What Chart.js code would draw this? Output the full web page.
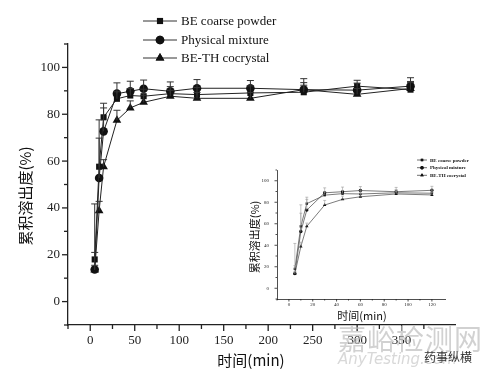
<!DOCTYPE html>
<html>
<head>
<meta charset="utf-8">
<script src="https://cdn.jsdelivr.net/npm/chart.js@4/dist/chart.umd.min.js"></script>
<style>
  html, body { margin: 0; padding: 0; background: #fff; }
  #wrap { position: relative; width: 489px; height: 378px; overflow: hidden; }
  #main { position: absolute; left: 0; top: 0; }
  #inset { position: absolute; left: 240px; top: 155px; }
  .wm { position: absolute; white-space: nowrap; }
</style>
</head>
<body>
<div id="wrap">
  <canvas id="main" width="489" height="378"></canvas>
  <canvas id="inset" width="230" height="170"></canvas>
  <div class="wm" style="left:338px;top:318px;font:28px 'Noto Sans CJK SC';color:rgba(190,190,190,0.7);letter-spacing:1px;">嘉峪检测网</div>
  <div class="wm" style="left:338px;top:350px;font:italic 15px 'DejaVu Sans';color:rgba(200,200,200,0.7);">AnyTesting.com</div>
  <div class="wm" style="left:424px;top:348px;font:12px 'Noto Sans CJK SC';color:#333;">药事纵横</div>
</div>
<script>
// release times (min)
const times = [5, 10, 15, 30, 45, 60, 90, 120, 180, 240, 300, 360];
const insetTimes = [5, 10, 15, 30, 45, 60, 90, 120];

// cumulative dissolution (%)
const coarse = [18, 57.6, 78.7, 86.6, 88, 87.7, 88.8, 88.4, 89.1, 89.4, 92, 90.5];
const mixture = [13.7, 52.8, 72.7, 88.8, 89.8, 90.9, 89.8, 91.1, 91.1, 90.5, 90.3, 92];
const cocrystal = [13.5, 38.8, 57.6, 77.4, 82.7, 85.1, 87.7, 86.8, 86.8, 90.5, 88.5, 91];

// standard deviations (upper bars)
const coarseErr = [3, 20, 6, 3, 3, 3, 3, 3, 3, 3, 2.5, 3];
const mixtureErr = [28, 17, 10, 4.6, 4.3, 3.7, 4, 3.7, 3.3, 4.7, 3, 3.6];
const cocrystalErr = [2, 4, 3, 4.3, 3, 3, 2.5, 2.5, 2.5, 3, 2.5, 3];

const seriesNames = ["BE coarse powder", "Physical mixture", "BE-TH cocrystal"];
const markers = ["rect", "circle", "triangle"];

const yTitle = "累积溶出度(%)";
const xTitle = "时间(min)";

function makeSets(xs, big) {
  const vals = [coarse, mixture, cocrystal];
  const errs = [coarseErr, mixtureErr, cocrystalErr];
  return vals.map((v, k) => ({
    label: seriesNames[k],
    data: xs.map((t, i) => ({ x: t, y: v[i] })),
    err: errs[k].slice(0, xs.length),
    borderColor: big ? "#222" : "#444",
    backgroundColor: "#111",
    borderWidth: big ? 1 : 0.7,
    pointStyle: markers[k],
    pointRadius: big ? (k === 2 ? 5 : 4.3) : (k === 2 ? 2 : 1.7),
    pointBorderWidth: 0,
    tension: 0,
  }));
}

// error bars, minor/major ticks, legend and titles
function decor(o) {
  return {
    id: "decor",
    afterDatasetsDraw(chart) {
      const ctx = chart.ctx, ys = chart.scales.y;
      ctx.save();
      ctx.strokeStyle = o.errColor;
      ctx.lineWidth = o.errWidth;
      chart.data.datasets.forEach((ds, d) => {
        const meta = chart.getDatasetMeta(d);
        meta.data.forEach((pt, i) => {
          const top = ys.getPixelForValue(ds.data[i].y + ds.err[i]);
          ctx.beginPath();
          ctx.moveTo(pt.x, pt.y);
          ctx.lineTo(pt.x, top);
          ctx.moveTo(pt.x - o.cap, top);
          ctx.lineTo(pt.x + o.cap, top);
          ctx.stroke();
        });
      });
      ctx.restore();
    },
    afterDraw(chart) {
      const ctx = chart.ctx, xs = chart.scales.x, ys = chart.scales.y;
      const a = chart.chartArea;
      ctx.save();
      ctx.strokeStyle = "#222";
      ctx.lineWidth = o.axisWidth;
      xs.ticks.forEach(t => {
        if (t.value > xs.max || t.value < xs.min) return;
        const p = xs.getPixelForValue(t.value);
        const L = t.value % o.xMajor === 0 ? o.major : o.minor;
        ctx.beginPath(); ctx.moveTo(p, a.bottom); ctx.lineTo(p, a.bottom + L); ctx.stroke();
      });
      ys.ticks.forEach(t => {
        const p = ys.getPixelForValue(t.value);
        const L = t.value % o.yMajor === 0 ? o.major : o.minor;
        ctx.beginPath(); ctx.moveTo(a.left, p); ctx.lineTo(a.left - L, p); ctx.stroke();
      });
      // legend
      chart.data.datasets.forEach((ds, k) => {
        const y = o.leg.y[k];
        ctx.strokeStyle = "#333";
        ctx.lineWidth = o.leg.lw;
        ctx.beginPath(); ctx.moveTo(o.leg.x0, y); ctx.lineTo(o.leg.x1, y); ctx.stroke();
        const mx = (o.leg.x0 + o.leg.x1) / 2;
        Chart.helpers.drawPoint(ctx, { pointStyle: ds.pointStyle, radius: ds.pointRadius, borderWidth: 0 }, mx, y);
        ctx.fillStyle = "#111";
        ctx.fill();
        ctx.font = o.leg.font;
        ctx.textBaseline = "middle";
        ctx.textAlign = "left";
        ctx.fillText(ds.label, o.leg.tx, y + 0.5);
      });
      // axis titles
      ctx.fillStyle = "#111";
      ctx.font = o.titleFont;
      ctx.textAlign = "center";
      ctx.textBaseline = "middle";
      ctx.fillText(xTitle, o.xt[0], o.xt[1]);
      ctx.translate(o.yt[0], o.yt[1]);
      ctx.rotate(-Math.PI / 2);
      ctx.fillText(yTitle, 0, 0);
      ctx.restore();
    }
  };
}

function axes(o) {
  return {
    x: {
      type: "linear", min: o.xmin, max: o.xmax,
      grid: { display: false },
      border: { display: true, color: "#222", width: o.axisWidth },
      afterFit: s => { s.height = o.xh; },
      afterBuildTicks: s => { s.ticks = s.ticks.filter(t => t.value % o.xStep === 0); },
      ticks: {
        stepSize: o.xStep, autoSkip: false, maxRotation: 0, padding: o.xpad,
        color: "#222", font: { family: "Liberation Serif", size: o.tickSize },
        callback: v => (v % o.xMajor === 0 && v >= 0 && v <= o.xLast) ? v : ""
      }
    },
    y: {
      type: "linear", min: -10, max: 110,
      grid: { display: false },
      border: { display: true, color: "#222", width: o.axisWidth },
      afterFit: s => { s.width = o.yw; },
      ticks: {
        stepSize: 10, autoSkip: false, padding: o.ypad,
        color: "#222", font: { family: "Liberation Serif", size: o.tickSize },
        callback: v => (v % 20 === 0 && v >= 0 && v <= 100) ? v : ""
      }
    }
  };
}

const mainOpt = {
  xmin: -25, xmax: 410, xStep: 25, xMajor: 50, xLast: 400, xh: 53, yw: 68,
  xpad: 0, ypad: 0, tickSize: 13, axisWidth: 1.3, major: 6, minor: 4, yMajor: 20,
  errColor: "#333", errWidth: 1, cap: 3.5,
  leg: { x0: 143, x1: 177, tx: 181, y: [21, 40, 58], lw: 1, font: "13px 'Liberation Serif'" },
  titleFont: "15px 'Noto Sans CJK SC'", xt: [251, 360], yt: [25, 196]
};

new Chart(document.getElementById("main"), {
  type: "line",
  data: { datasets: makeSets(times, true) },
  options: {
    responsive: false, animation: false,
    layout: { padding: { left: 0, top: 44, right: 34, bottom: 0 } },
    plugins: { legend: { display: false }, tooltip: { enabled: false } },
    scales: axes(mainOpt)
  },
  plugins: [decor(mainOpt)]
});

const insetOpt = {
  xmin: -10, xmax: 131, xStep: 10, xMajor: 20, xLast: 120, xh: 26, yw: 37,
  xpad: -5, ypad: 0, tickSize: 5, axisWidth: 0.8, major: 2.5, minor: 1.5, yMajor: 20,
  errColor: "#999", errWidth: 0.6, cap: 1.5,
  leg: { x0: 177, x1: 187, tx: 190, y: [5, 12.7, 20.3], lw: 0.7, font: "bold 5px 'Liberation Serif'" },
  titleFont: "11px 'Noto Sans CJK SC'", xt: [122, 161], yt: [15, 82]
};

new Chart(document.getElementById("inset"), {
  type: "line",
  data: { datasets: makeSets(insetTimes, false) },
  options: {
    responsive: false, animation: false,
    layout: { padding: { left: 0, top: 15, right: 25, bottom: 0 } },
    plugins: { legend: { display: false }, tooltip: { enabled: false } },
    scales: axes(insetOpt)
  },
  plugins: [decor(insetOpt)]
});
</script>
</body>
</html>
